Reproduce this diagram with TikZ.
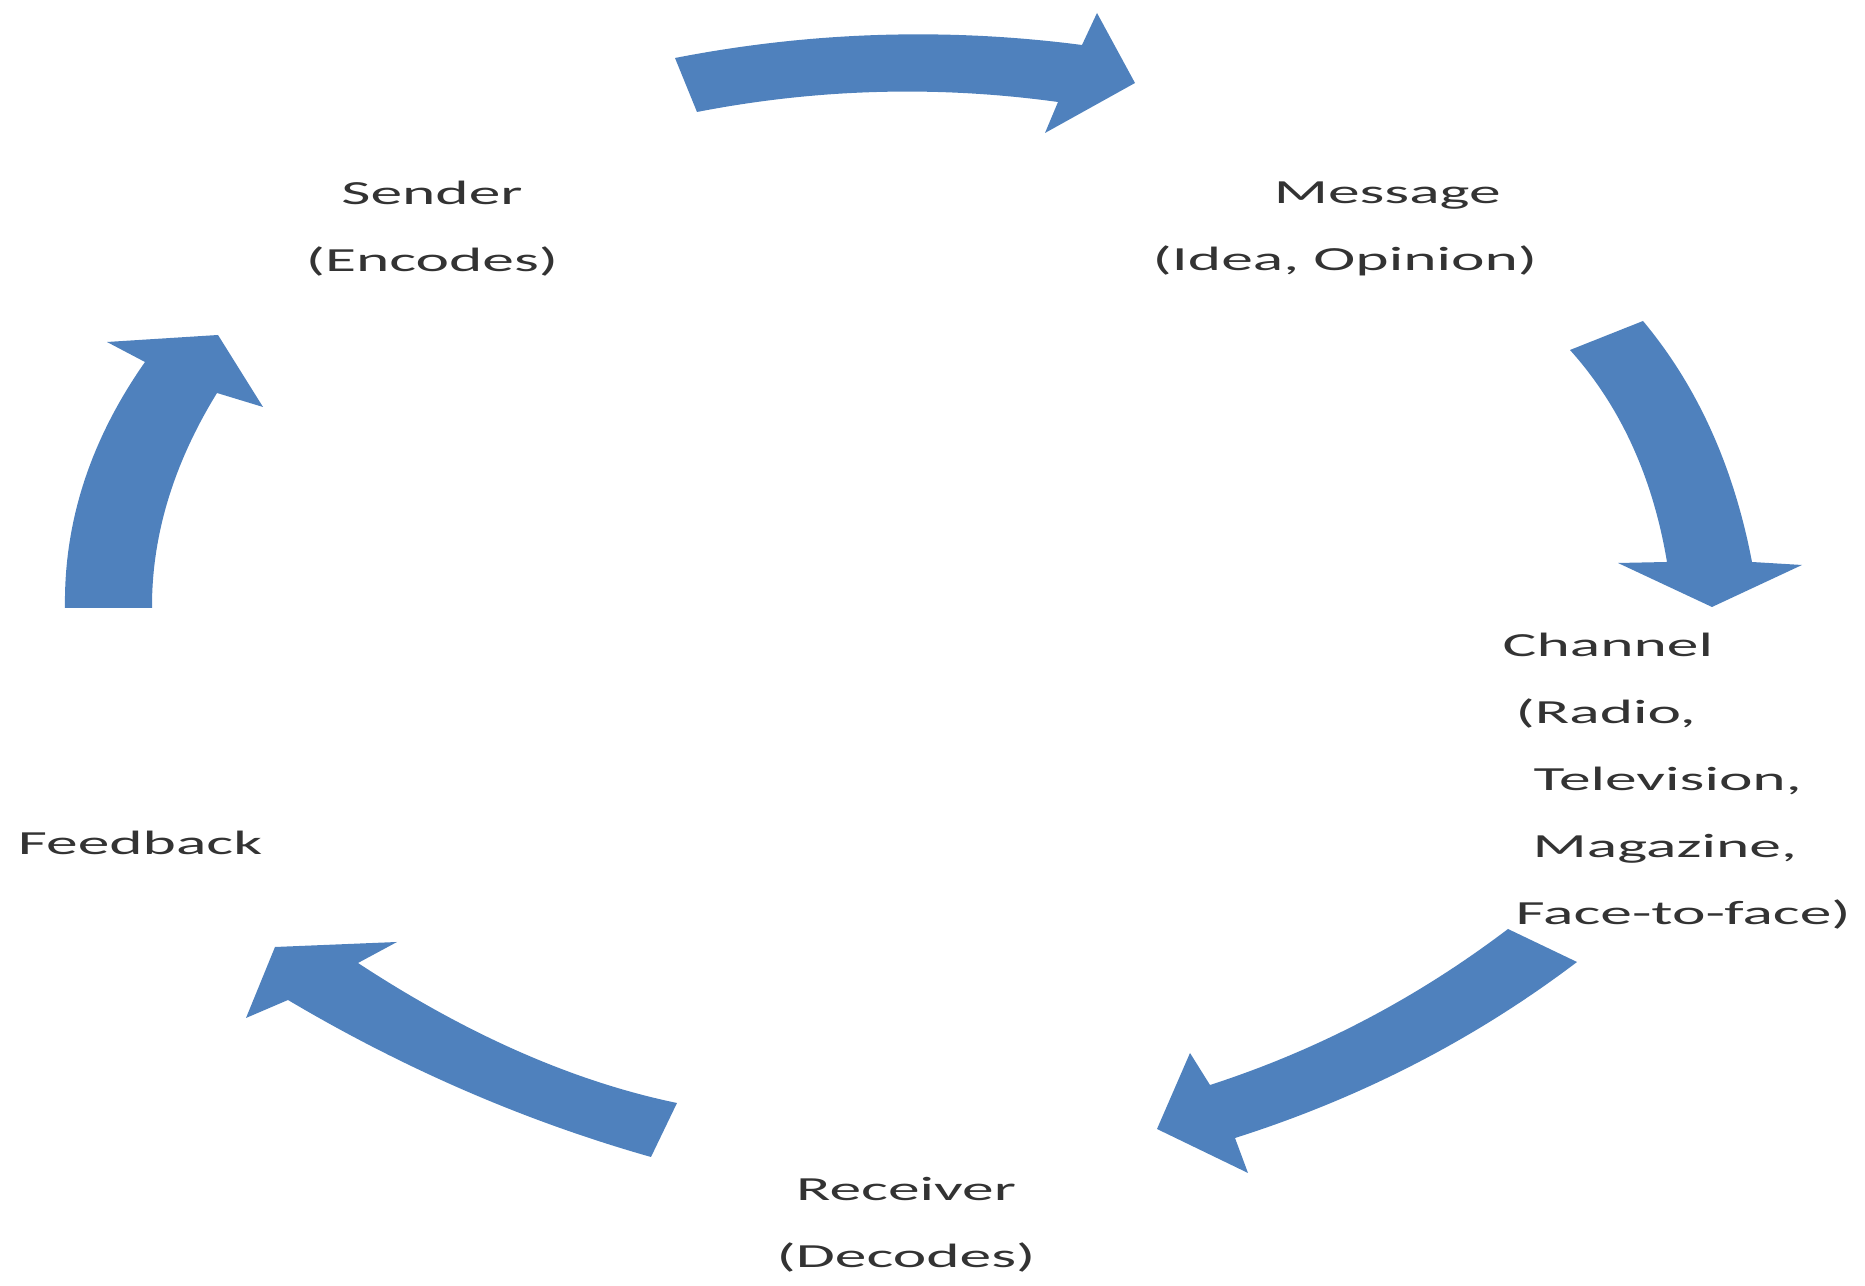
\documentclass[tikz,border=0pt]{standalone}
\usepackage{fontspec}
\usepackage{tikz}
\newfontfamily\cyclefont[FakeStretch=1.88]{Carlito}
\definecolor{cycleblue}{RGB}{79,129,189}
\tikzstyle{cyclelabel} = [
    inner sep=0pt, anchor=base, text=black!80,
    font=\cyclefont\fontsize{9.6}{19.06}\selectfont
]
\tikzstyle{blockarrow} = [fill=cycleblue, draw=none]

\begin{document}
\begin{tikzpicture}[x=0.01cm, y=-0.01cm]
        \useasboundingbox (0,0) rectangle (1865,1286);

        % Stages of the cycle (base = last line)
        \node[cyclelabel, align=center] (sender) at (432,272)
            {Sender\\(Encodes)};
        \node[cyclelabel, align=left, anchor=base west] (message) at (1152,271)
            {\hspace*{1.21cm}Message\\(Idea, Opinion)};
        \node[cyclelabel, align=left, anchor=base west] (channel) at (1502,925)
            {Channel\\\hspace*{0.13cm}(Radio,\\\hspace*{0.31cm}Television,\\
             \hspace*{0.30cm}Magazine,\\\hspace*{0.13cm}Face-to-face)};
        \node[cyclelabel] (feedback) at (140,855) {Feedback};
        \node[cyclelabel, align=center] (receiver) at (906,1268)
            {Receiver\\(Decodes)};

        % Curved block arrows
        \fill[blockarrow] (675,58) .. controls (810,31.7) and (945.7,27.3) .. (1082,45)
            -- (1097,13) -- (1135,83) -- (1045,133) -- (1058,102)
            .. controls (937,85.3) and (816.7,88.7) .. (697,112) -- cycle;
        \fill[blockarrow] (1643,321) .. controls (1697.3,386) and (1733.7,466.3) .. (1752,562)
            -- (1802,565) -- (1712,607) -- (1618,563) -- (1667,562)
            .. controls (1652.7,476.7) and (1620.3,406) .. (1570,350) -- cycle;
        \fill[blockarrow] (1508,929) .. controls (1416.7,998.3) and (1317.3,1050.3) .. (1210,1085)
            -- (1190,1053) -- (1157,1129) -- (1248,1173) -- (1235,1138)
            .. controls (1361,1098) and (1475,1039.3) .. (1577,962) -- cycle;
        \fill[blockarrow] (677,1103) .. controls (574,1081.7) and (467.7,1035) .. (358,963)
            -- (397,942) -- (275,947) -- (246,1018) -- (288,1000)
            .. controls (404.3,1069) and (525.3,1121.3) .. (651,1157) -- cycle;
        \fill[blockarrow] (65,608) .. controls (63.7,522) and (90.3,440) .. (145,362)
            -- (107,342) -- (218,335) -- (263,407) -- (217,393)
            .. controls (173.3,464) and (151.7,535.7) .. (152,608) -- cycle;
    \end{tikzpicture}
\end{document}
